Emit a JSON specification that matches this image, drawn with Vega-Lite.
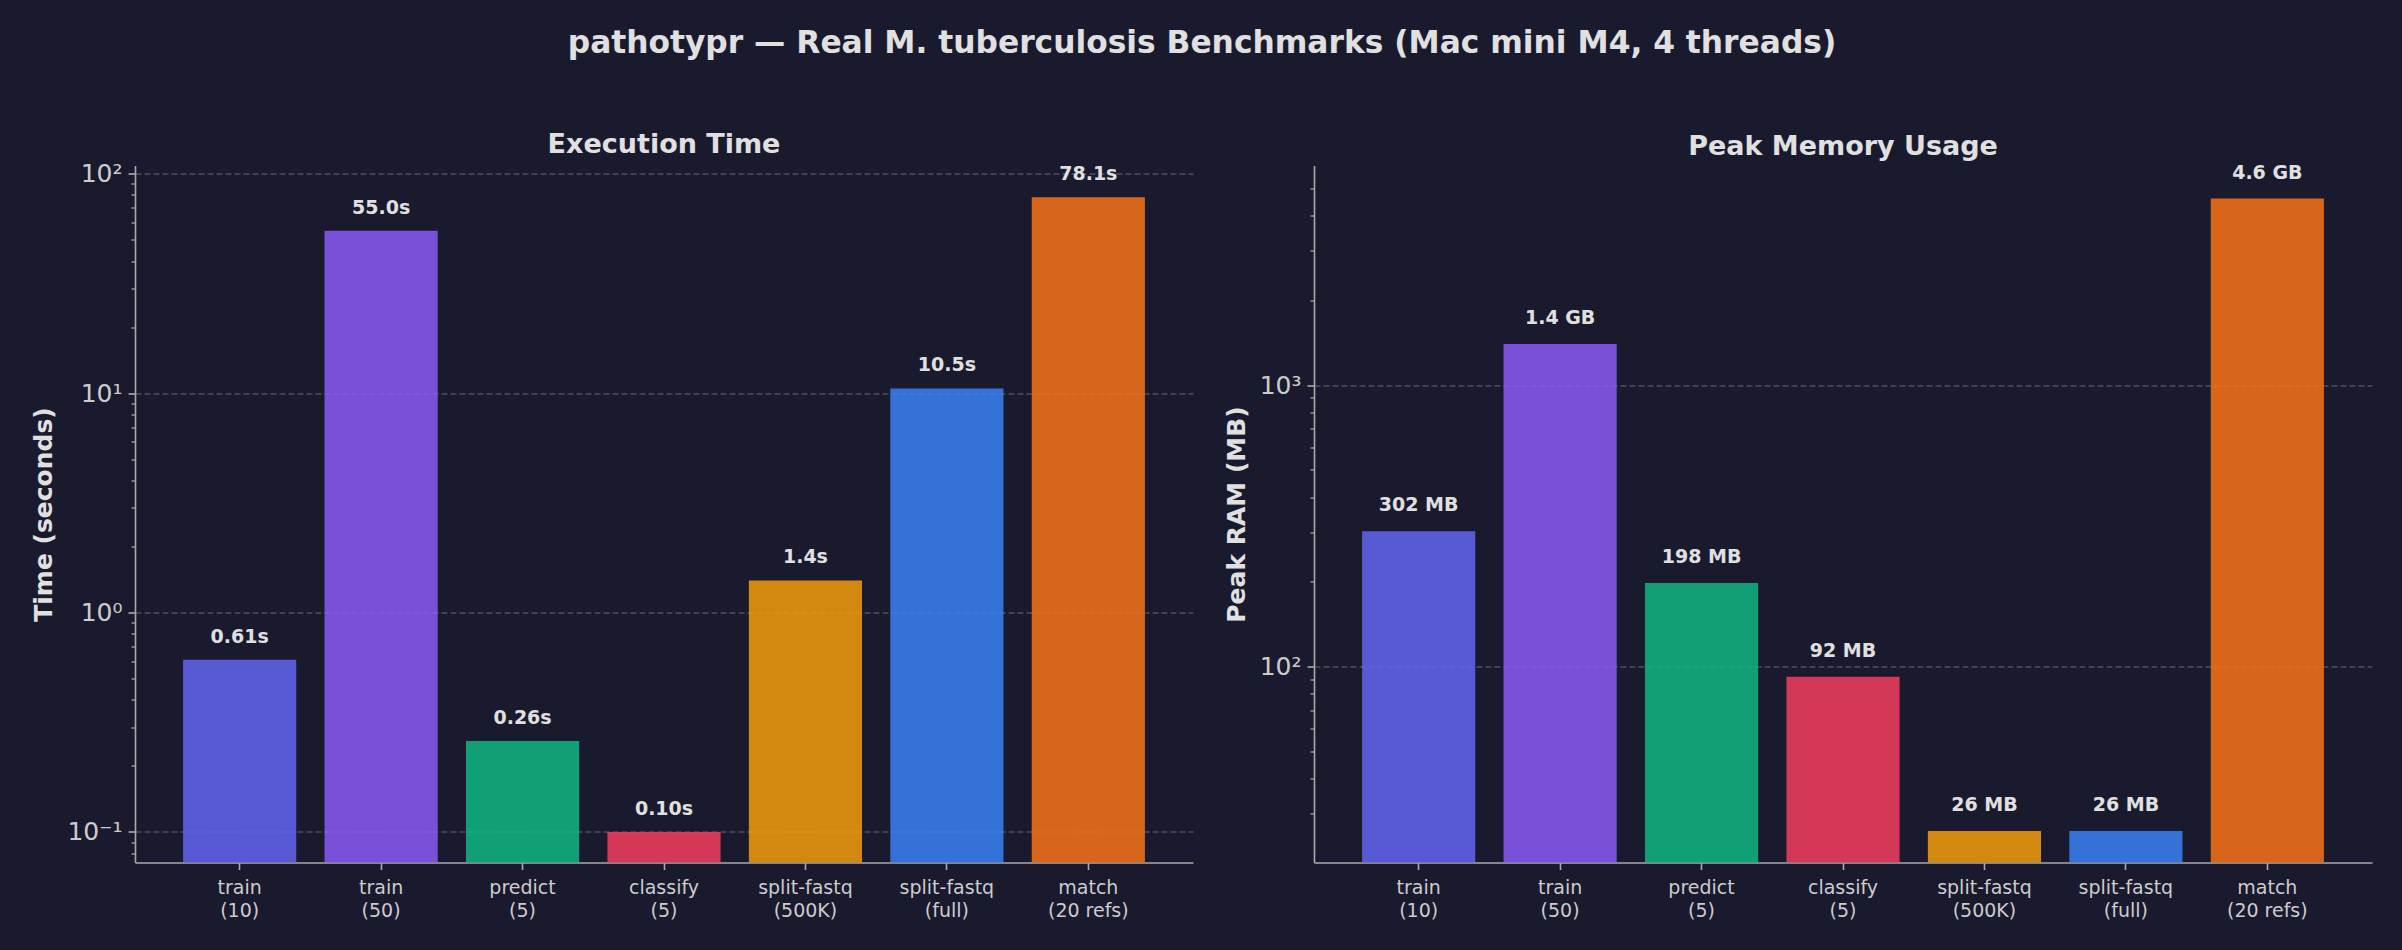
{
  "$schema": "https://vega.github.io/schema/vega-lite/v6.json",
  "background": "#1a1a2e",
  "padding": {"left": 31, "top": 27.5, "right": 36, "bottom": 34},
  "title": {
    "text": "pathotypr — Real M. tuberculosis Benchmarks (Mac mini M4, 4 threads)",
    "fontSize": 31.3,
    "fontWeight": "bold",
    "color": "#e0e0e0",
    "anchor": "middle",
    "offset": 71.5
  },
  "datasets": {
    "bench": [
      {"task": "train\n(10)", "time_s": 0.61, "time_label": "0.61s", "peak_mb": 302, "mem_label": "302 MB"},
      {"task": "train\n(50)", "time_s": 55.0, "time_label": "55.0s", "peak_mb": 1400, "mem_label": "1.4 GB"},
      {"task": "predict\n(5)", "time_s": 0.26, "time_label": "0.26s", "peak_mb": 198, "mem_label": "198 MB"},
      {"task": "classify\n(5)", "time_s": 0.10, "time_label": "0.10s", "peak_mb": 92, "mem_label": "92 MB"},
      {"task": "split-fastq\n(500K)", "time_s": 1.4, "time_label": "1.4s", "peak_mb": 26, "mem_label": "26 MB"},
      {"task": "split-fastq\n(full)", "time_s": 10.5, "time_label": "10.5s", "peak_mb": 26, "mem_label": "26 MB"},
      {"task": "match\n(20 refs)", "time_s": 78.1, "time_label": "78.1s", "peak_mb": 4600, "mem_label": "4.6 GB"}
    ]
  },
  "data": {"name": "bench"},
  "spacing": 31,
  "hconcat": [
    {
      "width": 1058,
      "height": 697,
      "title": {"text": "Execution Time", "fontSize": 27, "fontWeight": "bold", "color": "#e0e0e0", "anchor": "middle", "frame": "group", "offset": 2.5},
      "layer": [
        {
          "mark": {"type": "bar", "opacity": 0.85},
          "encoding": {
            "x": {
              "field": "task", "type": "nominal", "sort": null,
              "scale": {"paddingInner": 0.2, "paddingOuter": 0.34},
              "axis": {"title": null, "labelAngle": 0, "labelExpr": "split(datum.value, '\\n')", "labelFontSize": 19, "labelLineHeight": 23, "labelColor": "#cccccc", "labelPadding": 9, "tickSize": 7, "tickWidth": 1.6, "tickColor": "#aaaaaa", "domainColor": "#aaaaaa", "domainWidth": 1.6, "grid": false}
            },
            "y": {
              "field": "time_s", "type": "quantitative",
              "scale": {"type": "log", "domain": [0.0726, 109], "nice": false},
              "axis": {"title": "Time (seconds)", "values": [0.1, 1, 10, 100], "labelExpr": "datum.value >= 100 ? '10²' : datum.value >= 10 ? '10¹' : datum.value >= 1 ? '10⁰' : '10⁻¹'", "labelFontSize": 25, "labelColor": "#cccccc", "labelPadding": 6, "titleFontSize": 25, "titleFontWeight": "bold", "titleColor": "#e0e0e0", "titlePadding": 10, "tickSize": 7, "tickWidth": 1.6, "tickColor": "#aaaaaa", "domainColor": "#aaaaaa", "domainWidth": 1.6, "grid": true, "gridColor": "#4d4d60", "gridDash": [6, 3], "gridWidth": 1.3, "orient": "left"}
            },
            "y2": {"datum": 0.0726},
            "color": {
              "field": "task", "type": "nominal", "legend": null,
              "scale": {
                "domain": ["train\n(10)", "train\n(50)", "predict\n(5)", "classify\n(5)", "split-fastq\n(500K)", "split-fastq\n(full)", "match\n(20 refs)"],
                "range": ["#6366f1", "#8b5cf6", "#10b981", "#f43f5e", "#f59e0b", "#3b82f6", "#f97316"]
              }
            }
          }
        },
        {
          "mark": {"type": "text", "dy": -23, "fontSize": 19, "fontWeight": "bold", "color": "#e0e0e0", "baseline": "middle", "align": "center"},
          "encoding": {
            "x": {"field": "task", "type": "nominal", "sort": null},
            "y": {
              "field": "time_s", "type": "quantitative",
              "axis": {"title": null, "labels": false, "domain": false, "grid": false, "tickSize": 4, "tickWidth": 1.2, "tickColor": "#aaaaaa", "orient": "left",
                "values": [0.08, 0.09, 0.2, 0.3, 0.4, 0.5, 0.6, 0.7, 0.8, 0.9, 2, 3, 4, 5, 6, 7, 8, 9, 20, 30, 40, 50, 60, 70, 80, 90]}
            },
            "text": {"field": "time_label"}
          }
        }
      ],
      "resolve": {"axis": {"y": "independent"}}
    },
    {
      "width": 1058,
      "height": 697,
      "title": {"text": "Peak Memory Usage", "fontSize": 27, "fontWeight": "bold", "color": "#e0e0e0", "anchor": "middle", "frame": "group", "offset": 2.5},
      "layer": [
        {
          "mark": {"type": "bar", "opacity": 0.85},
          "encoding": {
            "x": {
              "field": "task", "type": "nominal", "sort": null,
              "scale": {"paddingInner": 0.2, "paddingOuter": 0.34},
              "axis": {"title": null, "labelAngle": 0, "labelExpr": "split(datum.value, '\\n')", "labelFontSize": 19, "labelLineHeight": 23, "labelColor": "#cccccc", "labelPadding": 9, "tickSize": 7, "tickWidth": 1.6, "tickColor": "#aaaaaa", "domainColor": "#aaaaaa", "domainWidth": 1.6, "grid": false}
            },
            "y": {
              "field": "peak_mb", "type": "quantitative",
              "scale": {"type": "log", "domain": [20.1, 6030], "nice": false},
              "axis": {"title": "Peak RAM (MB)", "values": [100, 1000], "labelExpr": "datum.value >= 1000 ? '10³' : '10²'", "labelFontSize": 25, "labelColor": "#cccccc", "labelPadding": 6, "titleFontSize": 25, "titleFontWeight": "bold", "titleColor": "#e0e0e0", "titlePadding": 10, "tickSize": 7, "tickWidth": 1.6, "tickColor": "#aaaaaa", "domainColor": "#aaaaaa", "domainWidth": 1.6, "grid": true, "gridColor": "#4d4d60", "gridDash": [6, 3], "gridWidth": 1.3, "orient": "left"}
            },
            "y2": {"datum": 20.1},
            "color": {
              "field": "task", "type": "nominal", "legend": null,
              "scale": {
                "domain": ["train\n(10)", "train\n(50)", "predict\n(5)", "classify\n(5)", "split-fastq\n(500K)", "split-fastq\n(full)", "match\n(20 refs)"],
                "range": ["#6366f1", "#8b5cf6", "#10b981", "#f43f5e", "#f59e0b", "#3b82f6", "#f97316"]
              }
            }
          }
        },
        {
          "mark": {"type": "text", "dy": -26, "fontSize": 19, "fontWeight": "bold", "color": "#e0e0e0", "baseline": "middle", "align": "center"},
          "encoding": {
            "x": {"field": "task", "type": "nominal", "sort": null},
            "y": {
              "field": "peak_mb", "type": "quantitative",
              "axis": {"title": null, "labels": false, "domain": false, "grid": false, "tickSize": 4, "tickWidth": 1.2, "tickColor": "#aaaaaa", "orient": "left",
                "values": [30, 40, 50, 60, 70, 80, 90, 200, 300, 400, 500, 600, 700, 800, 900, 2000, 3000, 4000, 5000]}
            },
            "text": {"field": "mem_label"}
          }
        }
      ],
      "resolve": {"axis": {"y": "independent"}}
    }
  ],
  "config": {
    "font": "DejaVu Sans",
    "view": {"stroke": null}
  }
}
